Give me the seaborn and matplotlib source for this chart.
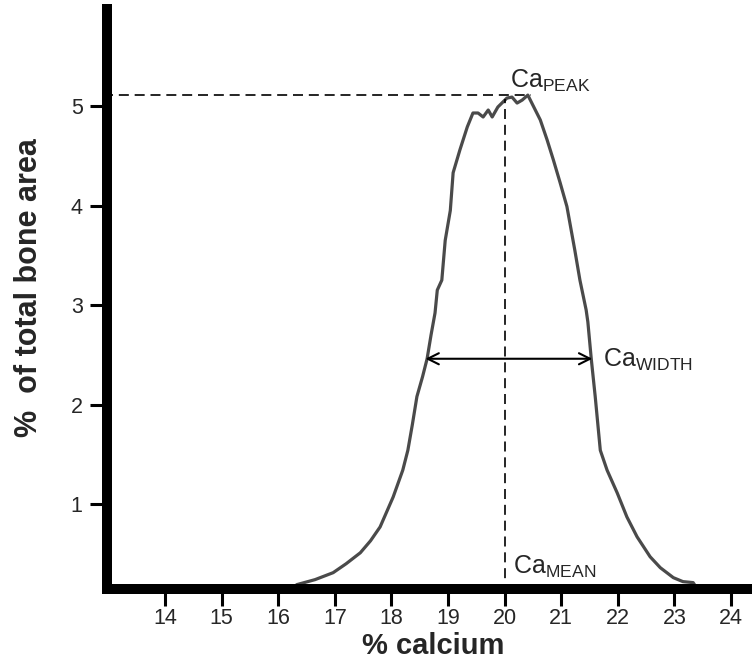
import matplotlib
matplotlib.use("Agg")
import matplotlib.pyplot as plt
import seaborn as sns
import pandas as pd

# Ca distribution curve
calcium = [16.24, 16.33, 16.65, 16.97, 17.20, 17.45, 17.63, 17.80, 18.03, 18.20,
           18.29, 18.37, 18.45, 18.55, 18.63, 18.70, 18.77, 18.81, 18.89, 18.95,
           19.04, 19.09, 19.21, 19.34, 19.44, 19.53, 19.62, 19.71, 19.78, 19.88,
           20.04, 20.13, 20.22, 20.31, 20.41, 20.48, 20.63, 20.75, 20.86, 20.98,
           21.10, 21.24, 21.33, 21.44, 21.47, 21.53, 21.60, 21.69, 21.81, 21.99,
           22.16, 22.34, 22.57, 22.75, 22.98, 23.15, 23.33, 23.40]
area = [0.15, 0.19, 0.24, 0.31, 0.40, 0.51, 0.63, 0.77, 1.07, 1.34,
        1.54, 1.80, 2.08, 2.28, 2.46, 2.70, 2.92, 3.15, 3.25, 3.65,
        3.95, 4.33, 4.56, 4.79, 4.93, 4.93, 4.89, 4.96, 4.89, 4.99,
        5.08, 5.09, 5.03, 5.06, 5.11, 5.03, 4.86, 4.66, 4.46, 4.23,
        3.99, 3.55, 3.25, 2.95, 2.83, 2.46, 2.08, 1.54, 1.34, 1.11,
        0.87, 0.67, 0.47, 0.36, 0.26, 0.22, 0.21, 0.15]

ca_mean = 20.0
ca_peak_x, ca_peak = 20.46, 5.11
width_left, width_right, width_level = 18.60, 21.55, 2.46

x_ticks = list(range(14, 25))
y_ticks = list(range(1, 6))

sns.set_style("ticks")
plt.rcParams['font.family'] = ['Liberation Sans', 'DejaVu Sans']
plt.rcParams['mathtext.fontset'] = 'custom'
plt.rcParams['mathtext.rm'] = 'Liberation Sans'
plt.rcParams['mathtext.it'] = 'Liberation Sans:italic'
plt.rcParams['mathtext.bf'] = 'Liberation Sans:bold'

df = pd.DataFrame({'calcium': calcium, 'area': area})

fig = plt.figure(figsize=(7.52, 6.69), dpi=100)
ax = fig.add_axes([0.1423, 0.1196, 0.8577, 0.8669])

sns.lineplot(data=df, x='calcium', y='area', ax=ax, color='#4a4a4a', lw=2.3)

# dashed guides to peak and mean
ax.plot([12.9, ca_peak_x], [ca_peak, ca_peak], color='black', lw=1.2,
        linestyle=(0, (6, 3.5)))
ax.plot([ca_mean, ca_mean], [0.1, 5.07], color='black', lw=1.2,
        linestyle=(0, (6, 3.5)))

# width arrow
ax.annotate('', xy=(width_left, width_level), xytext=(width_right, width_level),
            arrowprops=dict(arrowstyle='<->', lw=1.5, color='black',
                            mutation_scale=20, shrinkA=0, shrinkB=0))

ax.text(20.1, 5.18, r'$\mathrm{Ca}_{\mathrm{PEAK}}$', fontsize=18, va='baseline')
ax.text(21.74, 2.38, r'$\mathrm{Ca}_{\mathrm{WIDTH}}$', fontsize=18, va='baseline')
ax.text(20.15, 0.30, r'$\mathrm{Ca}_{\mathrm{MEAN}}$', fontsize=18, va='baseline')

ax.set_xlim(12.975, 24.37)
ax.set_ylim(0.146, 5.975)
ax.set_xticks(x_ticks)
ax.set_yticks(y_ticks)
ax.tick_params(axis='both', direction='out', length=12, width=2.2, color='black',
               labelsize=15.5)
ax.tick_params(axis='x', pad=1.5)
ax.tick_params(axis='y', pad=5.5)

for side in ['top', 'right']:
    ax.spines[side].set_visible(False)
for side in ['left', 'bottom']:
    ax.spines[side].set_linewidth(7.2)
    ax.spines[side].set_color('black')

ax.set_xlabel('% calcium', fontsize=21, fontweight='bold')
ax.set_ylabel('%  of total bone area', fontsize=22, fontweight='bold')
ax.xaxis.set_label_coords(0.506, -0.074)
ax.yaxis.set_label_coords(-0.097, 0.52)

fig.savefig('out.png', dpi=100)
